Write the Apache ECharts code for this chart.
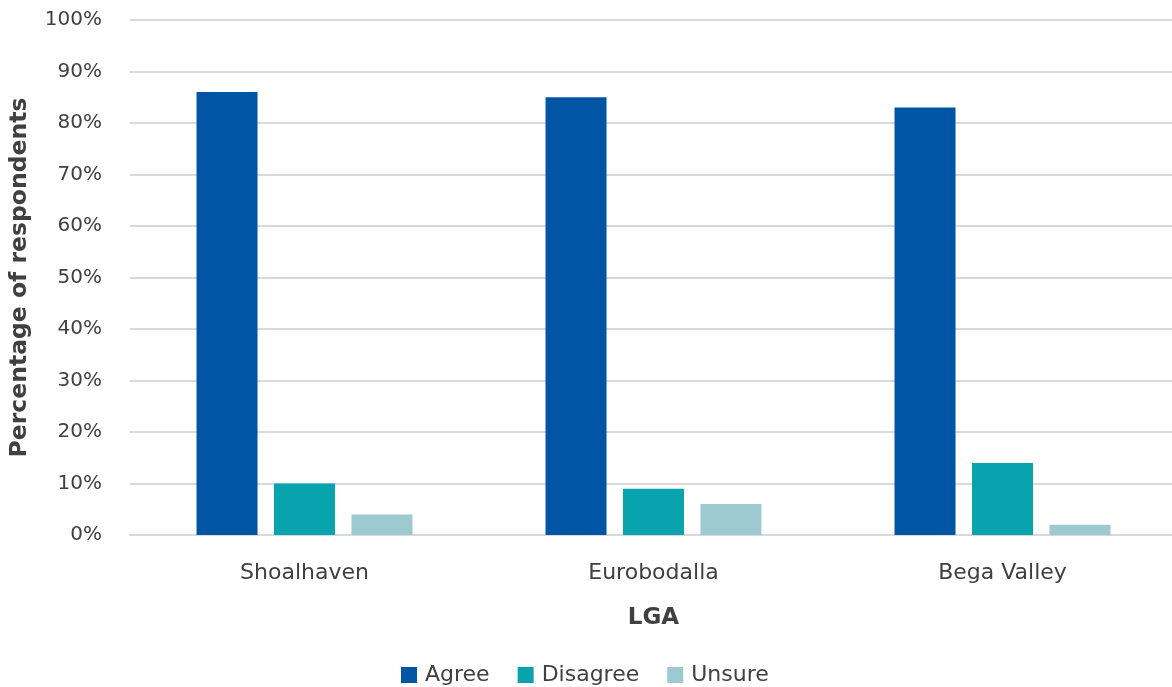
<!DOCTYPE html>
<html><head><meta charset="utf-8">
<script src="https://cdn.jsdelivr.net/npm/echarts@6/dist/echarts.min.js"></script>
<style>html,body{margin:0;padding:0;background:#fff;overflow:hidden;width:1172px;height:687px}#c{width:1177px;height:687px}</style>
</head><body><div id="c"></div>
<script>
const categories = ['Shoalhaven', 'Eurobodalla', 'Bega Valley'];
const agree = [86, 85, 83];
const disagree = [10, 9, 14];
const unsure = [4, 6, 2];
const seriesNames = ['Agree', 'Disagree', 'Unsure'];
const colors = ['#0055A5', '#09A3AD', '#9DC9D1'];
const font = "'DejaVu Sans', sans-serif";
const chart = echarts.init(document.getElementById('c'));
chart.setOption({
  animation: false,
  color: colors,
  textStyle: { fontFamily: font },
  grid: { left: 127, right: 0, top: 20, bottom: 152, containLabel: false },
  legend: {
    top: 659, left: 396, itemWidth: 16, itemHeight: 16, itemGap: 28,
    icon: 'rect',
    textStyle: { fontSize: 22, color: '#404040', fontFamily: font, padding: [0, 0, 0, 3] }
  },
  xAxis: {
    type: 'category', data: categories,
    name: 'LGA', nameLocation: 'middle', nameGap: 72,
    nameTextStyle: { fontSize: 23, fontWeight: 'bold', color: '#404040', fontFamily: font },
    axisLine: { lineStyle: { color: '#d9d9d9', width: 2 } },
    axisTick: { show: false },
    axisLabel: { fontSize: 22, color: '#404040', margin: 27, fontFamily: font }
  },
  yAxis: {
    type: 'value', min: 0, max: 100, interval: 10,
    name: 'Percentage of respondents', nameLocation: 'middle', nameGap: 98, nameRotate: 90,
    nameTextStyle: { fontSize: 23.5, fontWeight: 'bold', color: '#404040', fontFamily: font },
    axisLabel: { formatter: '{value}%', fontSize: 20, color: '#404040', margin: 28, fontFamily: font },
    splitLine: { lineStyle: { color: '#d9d9d9', width: 2 } },
    axisLine: { show: false }, axisTick: { show: false }
  },
  series: [
    { name: seriesNames[0], type: 'bar', data: agree, barWidth: 61, barGap: '27%' },
    { name: seriesNames[1], type: 'bar', data: disagree, barWidth: 61, barGap: '27%' },
    { name: seriesNames[2], type: 'bar', data: unsure, barWidth: 61, barGap: '27%' }
  ]
});
</script></body></html>
